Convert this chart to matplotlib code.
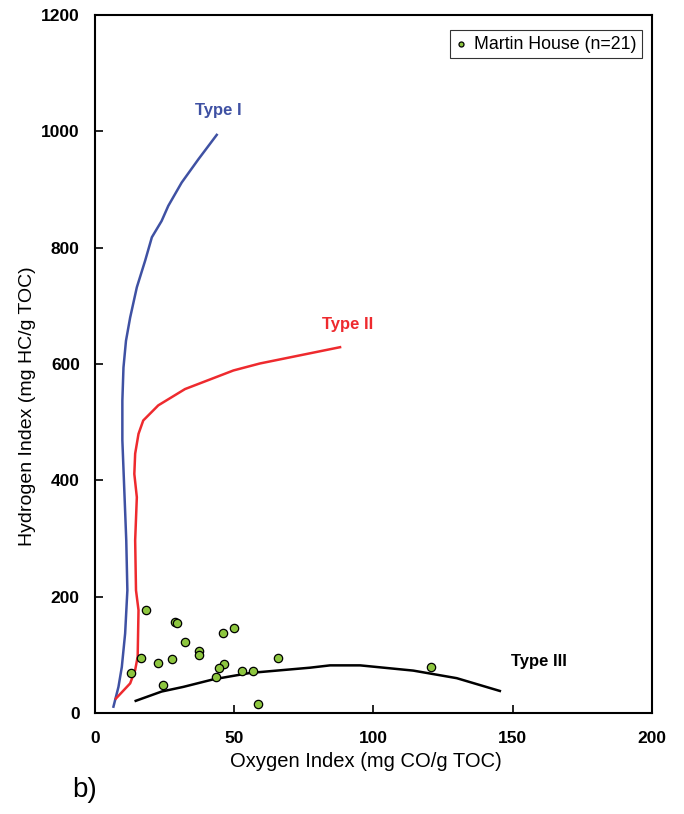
import matplotlib.pyplot as plt

plt.rcParams['font.family'] = ['Liberation Sans', 'DejaVu Sans']

# Martin House samples (Oxygen Index, Hydrogen Index)
oi = [18.2, 28.6, 29.3, 49.9, 45.9, 32.4, 37.3, 37.3, 16.4, 22.6, 27.5,
      65.6, 46.4, 44.6, 52.7, 56.6, 12.8, 43.6, 24.4, 58.4, 120.6]
hi = [178, 156, 154, 146, 138, 123, 106, 99, 94, 86, 93,
      94, 84, 77, 73, 72, 69, 62, 48, 15, 80]

# kerogen type evolution curves
type1_x = [6.6, 8.4, 9.6, 10.8, 11.6, 11.2, 10.5, 9.8, 9.8, 10.2, 11.1,
           12.6, 15.0, 18.0, 20.4, 23.9, 26.3, 31.1, 37.1, 43.7]
type1_y = [11, 45, 79, 137, 211, 297, 383, 469, 537, 594, 640,
           680, 732, 778, 818, 846, 872, 912, 952, 994]

type2_x = [7.5, 12.6, 14.4, 15.3, 15.6, 14.7, 14.4, 15.0, 14.1, 14.4,
           15.6, 17.3, 22.7, 32.3, 49.7, 59.2, 88.0]
type2_y = [25, 51, 74, 97, 177, 211, 297, 371, 411, 446,
           480, 503, 529, 557, 589, 601, 629]

type3_x = [14.6, 23.9, 31.7, 42.5, 55.7, 77.2, 84.4, 95.2, 114.3, 129.9, 145.4]
type3_y = [21, 37, 45, 58, 69, 78, 82, 82, 73, 60, 38]

blue = '#3F51A3'
red = '#EE2A2E'
green = '#8DC63F'

fig = plt.figure(figsize=(6.84, 8.14), dpi=100)
ax = fig.add_axes([0.139, 0.124, 0.814, 0.8575])

ax.plot(type1_x, type1_y, color=blue, lw=1.8)
ax.plot(type2_x, type2_y, color=red, lw=1.8)
ax.plot(type3_x, type3_y, color='black', lw=1.8)
ax.scatter(oi, hi, s=36, color=green, edgecolor='black', linewidth=0.9,
           zorder=3, label='Martin House (n=21)')

ax.text(44.2, 1036, 'Type I', color=blue, fontsize=12, fontweight='bold', ha='center', va='center')
ax.text(90.8, 668, 'Type II', color=red, fontsize=12, fontweight='bold', ha='center', va='center')
ax.text(159.4, 89, 'Type III', color='black', fontsize=12, fontweight='bold', ha='center', va='center')

ax.set_xlim(0, 200)
ax.set_ylim(0, 1200)
ax.set_xticks([0, 50, 100, 150, 200])
ax.set_yticks([0, 200, 400, 600, 800, 1000, 1200])
ax.tick_params(direction='in', length=6, width=1.2, labelsize=12.5)
ax.tick_params(axis='y', pad=11)
ax.tick_params(axis='x', pad=13)
for lbl in ax.get_xticklabels() + ax.get_yticklabels():
    lbl.set_fontweight('bold')
for sp in ax.spines.values():
    sp.set_linewidth(1.5)

ax.set_xlabel('Oxygen Index (mg CO/g TOC)', fontsize=14.5, va='center')
ax.set_ylabel('Hydrogen Index (mg HC/g TOC)', fontsize=14, va='center')
ax.xaxis.set_label_coords(0.487, -0.069)
ax.yaxis.set_label_coords(-0.122, 0.44)

leg = ax.legend(loc='upper right', fontsize=12.8, frameon=True, fancybox=False,
                edgecolor='black', handlelength=0.6, handletextpad=0.45, borderpad=0.3,
                markerscale=0.6, borderaxespad=0, bbox_to_anchor=(0.982, 0.978))
leg.get_frame().set_linewidth(0.8)

fig.text(0.105, 0.0295, 'b)', fontsize=20, va='center')

fig.savefig('out.png', dpi=100)
